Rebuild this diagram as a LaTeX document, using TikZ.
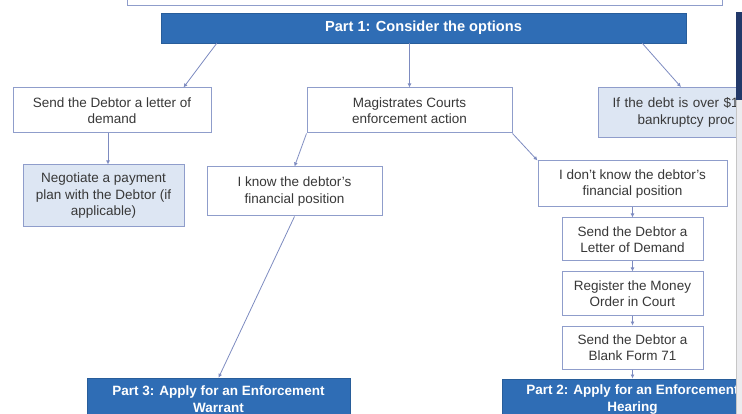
\documentclass[tikz,border=0pt]{standalone}
\usepackage{fontspec}
\setmainfont{Liberation Sans}
\usetikzlibrary{arrows.meta, positioning}

\definecolor{partblue}{HTML}{2F6DB5}
\definecolor{boxline}{HTML}{8F9DCB}
\definecolor{boxfill}{HTML}{DDE6F3}
\definecolor{linkcol}{HTML}{7D8BC0}
\definecolor{edgenavy}{HTML}{22396A}
\definecolor{edgegray}{HTML}{ECECEF}
\definecolor{txtgray}{HTML}{383838}

\begin{document}
\begin{tikzpicture}[
  x=1pt, y=-1pt,
  node distance=10pt,
  box/.style={rectangle, draw=boxline, line width=1pt, fill=white,
              align=center, text=txtgray, inner sep=0pt,
              font=\fontsize{13.5}{16.5}\selectfont},
  lightbox/.style={box, fill=boxfill},
  part/.style={rectangle, fill=partblue, draw=partblue!85!black,
               text=white, align=center, inner sep=0pt,
               font=\fontsize{13.5}{16.5}\selectfont\bfseries},
  arrow/.style={-{Latex[length=4pt, width=4pt]}, linkcol, line width=0.8pt},
]
  \useasboundingbox (0,0) rectangle (742,414);
  \clip (0,0) rectangle (742,414);

  \node[box, minimum width=595, minimum height=40] (intro) at (424.5,-14) {};
  \node[part, minimum width=525, minimum height=30,
        font=\fontsize{14.6}{17}\selectfont\bfseries] (part1) at (423.5,28)
    {Part 1: Consider the options};

  \node[box, minimum width=198, minimum height=45] (letter) at (112,110.5)
    {Send the Debtor a letter of\\demand};
  \node[box, minimum width=205, minimum height=45] (magistrates) at (409.5,110.5)
    {Magistrates Courts\\enforcement action};
  \node[lightbox, anchor=north west, text width=200, align=left,
        inner xsep=14pt, minimum height=50] (bankrupt) at (598,87)
    {If the debt is over \$1\\\hspace*{25pt}bankruptcy proc};

  \node[lightbox, minimum width=161, minimum height=62] (negotiate) at (103.5,196)
    {Negotiate a payment\\plan with the Debtor (if\\applicable)};
  \node[box, minimum width=175, minimum height=49] (iknow) at (294.5,191.5)
    {I know the debtor's\\financial position};
  \node[box, minimum width=189, minimum height=46] (dontknow) at (632.5,184)
    {I don't know the debtor's\\financial position};

  \node[box, minimum width=141, minimum height=43, below=of dontknow] (demand)
    {Send the Debtor a\\Letter of Demand};
  \node[box, minimum width=141, minimum height=43, below=of demand] (register)
    {Register the Money\\Order in Court};
  \node[box, minimum width=141, minimum height=43, below=of register] (form)
    {Send the Debtor a\\Blank Form 71};

  \node[part, minimum width=263, minimum height=42] (part3) at (218.5,399)
    {Part 3: Apply for an Enforcement\\Warrant};
  \node[part, minimum width=260, minimum height=42, below=9pt of form] (part2)
    {Part 2: Apply for an Enforcement\\Hearing};

  \draw[arrow] ([xshift=56pt]part1.south west) -- ([xshift=-28pt]letter.north east);
  \draw[arrow] (magistrates.north |- part1.south) -- (magistrates.north);
  \draw[arrow] ([xshift=-44pt]part1.south east) -- ([xshift=83pt]bankrupt.north west);
  \draw[arrow] ([xshift=-4pt]letter.south) -- ([xshift=-4pt]letter.south |- negotiate.north);
  \draw[arrow] (magistrates.south west) -- (iknow.north);
  \draw[arrow] (magistrates.south east) -- (dontknow.north west);
  \draw[arrow] (iknow.south) -- (part3.north);
  \draw[arrow] (dontknow) -- (demand);
  \draw[arrow] (demand) -- (register);
  \draw[arrow] (register) -- (form);
  \draw[arrow] (form) -- (part2);

  % page edge of the screenshot
  \fill[edgegray] (736,100) rectangle (742,414);
  \draw[gray!45] (736.5,100) -- (736.5,414);
  \fill[edgenavy] (736,12) rectangle (742,100);
\end{tikzpicture}
\end{document}
